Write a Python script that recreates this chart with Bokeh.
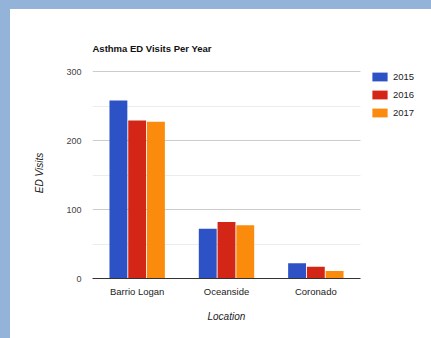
from bokeh.plotting import figure
from bokeh.models import ColumnDataSource, FixedTicker, Legend, LegendItem, Spacer, Range1d, Title
from bokeh.transform import dodge
from bokeh.layouts import column, row
from bokeh.embed import file_html
from bokeh.resources import INLINE

locations = ["Barrio Logan", "Oceanside", "Coronado"]
years = ["2015", "2016", "2017"]
visits_2015 = [258, 72, 22]
visits_2016 = [229, 82, 17]
visits_2017 = [227, 77, 11]
y_ticks = [0, 100, 200, 300]
y_minor_ticks = [50, 150, 250]

colors = ["#2d52c6", "#d42616", "#fb8b0c"]
FONT = "Liberation Sans"

# layout (canvas px): plotting area 268 px wide, frame extended to the right for the legend
W, H = 421, 329
LEFT, TOP, BOTTOM = 82, 58, 60
AREA_W = 268
FRAME_W = W - LEFT
PX_PER_UNIT = 207 / 300.0

n = len(locations)
xpos = [i + 0.5 for i in range(n)]
x_end = n * FRAME_W / AREA_W
y_end = 300 + (269 - TOP - 207) / PX_PER_UNIT

src = ColumnDataSource(dict(x=xpos, y2015=visits_2015, y2016=visits_2016, y2017=visits_2017))

p = figure(x_range=Range1d(0, x_end), y_range=Range1d(0, y_end), width=W, height=H,
           output_backend="svg", toolbar_location=None,
           min_border_left=LEFT, min_border_right=0, min_border_top=TOP, min_border_bottom=BOTTOM,
           title="Asthma ED Visits Per Year", y_axis_label="ED Visits")
p.outline_line_color = None
p.background_fill_color = "white"
p.border_fill_color = "white"

renderers = []
for i, (yr, col) in enumerate(zip(years, colors)):
    r = p.vbar(x=dodge("x", (i - 1) * 0.21), top="y" + yr, width=0.2,
               source=src, fill_color=col, line_color=None)
    renderers.append(r)

# title
p.title.text_font = FONT
p.title.text_font_size = "9.5px"
p.title.text_font_style = "bold"
p.title.text_color = "#111111"
p.title.align = "left"
p.title.standoff = 27

# y axis
p.yaxis.ticker = FixedTicker(ticks=y_ticks, minor_ticks=y_minor_ticks)
p.yaxis.axis_line_color = None
p.yaxis.major_tick_line_color = None
p.yaxis.minor_tick_line_color = None
p.yaxis.major_tick_out = 0
p.yaxis.major_tick_in = 0
p.yaxis.minor_tick_out = 0
p.yaxis.minor_tick_in = 0
p.yaxis.major_label_text_font = FONT
p.yaxis.major_label_text_font_size = "9px"
p.yaxis.major_label_text_color = "#444444"
p.yaxis.major_label_standoff = 11
p.yaxis.axis_label_text_font = FONT
p.yaxis.axis_label_text_font_size = "10px"
p.yaxis.axis_label_text_font_style = "italic"
p.yaxis.axis_label_text_color = "#222222"
p.yaxis.axis_label_standoff = 18

p.xgrid.grid_line_color = None
g = p.ygrid[0]
if "cross_bounds" in g.properties():
    g.grid_line_color = "#cccccc"
    g.minor_grid_line_color = "#ececec"
    g.cross_bounds = (0, n)
else:
    g.visible = False
    p.segment(x0=[0] * len(y_minor_ticks), x1=[n] * len(y_minor_ticks),
              y0=y_minor_ticks, y1=y_minor_ticks, line_color="#ececec", line_width=1)
    p.segment(x0=[0] * len(y_ticks), x1=[n] * len(y_ticks),
              y0=y_ticks, y1=y_ticks, line_color="#cccccc", line_width=1)
    p.renderers = p.renderers[-2:] + p.renderers[:-2]

# x axis
p.xaxis.ticker = FixedTicker(ticks=xpos)
p.xaxis.major_label_overrides = {x: name for x, name in zip(xpos, locations)}
p.xaxis.bounds = (0, n)
p.xaxis.axis_line_color = "#333333"
p.xaxis.major_tick_line_color = None
p.xaxis.minor_tick_line_color = None
p.xaxis.major_tick_out = 0
p.xaxis.major_tick_in = 0
p.xaxis.minor_tick_out = 0
p.xaxis.minor_tick_in = 0
p.xaxis.major_label_text_font = FONT
p.xaxis.major_label_text_font_size = "9.5px"
p.xaxis.major_label_text_color = "#222222"
p.xaxis.major_label_standoff = 7

# x axis title, centred under the plotting area (not the legend area)
x_title = Title(text="Location", align="left", offset=AREA_W / 2 - 19,
                text_font=FONT, text_font_size="10px", text_font_style="italic",
                text_color="#222222", standoff=19)
p.add_layout(x_title, "below")

legend = Legend(items=[LegendItem(label=yr, renderers=[r]) for yr, r in zip(years, renderers)],
                location=(278, 160), orientation="vertical",
                glyph_width=19, glyph_height=11, label_height=11, spacing=7,
                label_standoff=4, padding=0, margin=0, border_line_color=None,
                label_text_font=FONT, label_text_font_size="9.5px", label_text_color="#222222",
                background_fill_alpha=0)
p.add_layout(legend)

BLUE = "#93b4d8"
top = Spacer(width=431, height=9, styles={"background-color": BLUE})
left = Spacer(width=10, height=H, styles={"background-color": BLUE})
layout = column(top, row(left, p, spacing=0), spacing=0)

open("out.html", "w").write(file_html(layout, INLINE))
